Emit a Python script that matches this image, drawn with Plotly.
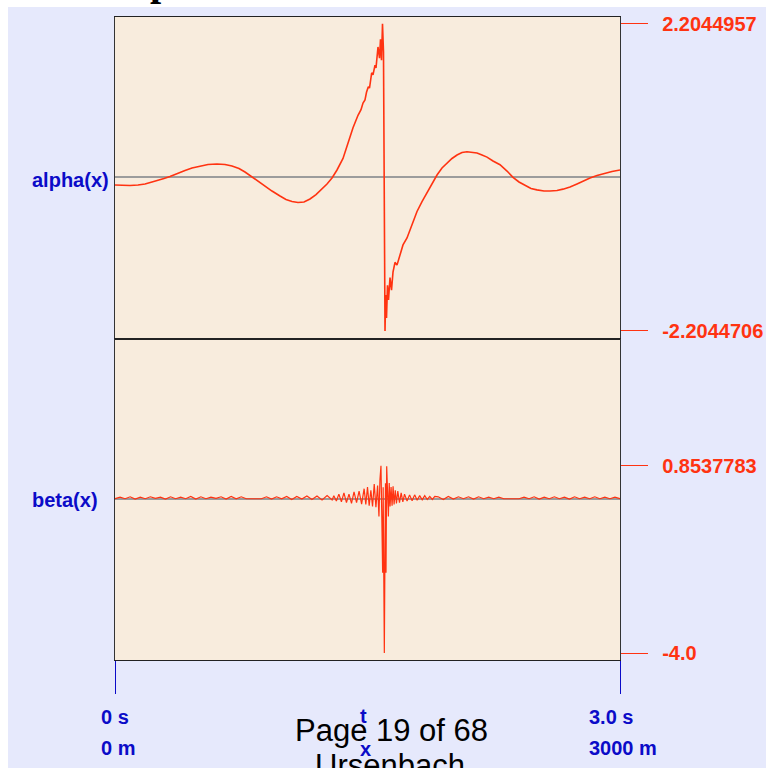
import numpy as np
import plotly.graph_objects as go
from plotly.subplots import make_subplots

# ---- alpha(x): time samples (s) and values ----
alpha_t = [0.0, 0.0416, 0.0891, 0.1366, 0.1782, 0.2198, 0.2554, 0.2911, 0.3267,
           0.3683, 0.4158, 0.4574, 0.5050, 0.5525, 0.6059, 0.6535, 0.6950, 0.7366,
           0.7723, 0.8139, 0.8495, 0.8911, 0.9327, 0.9802, 1.0158, 1.0515, 1.0871,
           1.1228, 1.1584, 1.1941, 1.2297, 1.2594, 1.2891, 1.3188, 1.3545, 1.3842,
           1.4139, 1.4436, 1.4614, 1.4733, 1.4851, 1.4941, 1.5048, 1.5119, 1.5249,
           1.5327, 1.5446, 1.5505, 1.5564, 1.5624, 1.5713, 1.5772, 1.5832, 1.5891,
           1.5950, 1.5992, 1.6040, 1.6081, 1.6129, 1.6188, 1.6248, 1.6337, 1.6426,
           1.6515, 1.6634, 1.6752, 1.6931, 1.7109, 1.7347, 1.7644, 1.7941, 1.8238,
           1.8535, 1.8832, 1.9129, 1.9426, 1.9723, 2.0020, 2.0317, 2.0614, 2.0911,
           2.1208, 2.1505, 2.1802, 2.2099, 2.2455, 2.2871, 2.3287, 2.3644, 2.4000,
           2.4356, 2.4713, 2.5069, 2.5485, 2.5842, 2.6257, 2.6614, 2.7030, 2.7446,
           2.7802, 2.8218, 2.8634, 2.9109, 2.9525, 3.0]
alpha_v = [-0.11, -0.118, -0.118, -0.11, -0.096, -0.067, -0.046, -0.017, 0.011,
           0.055, 0.098, 0.133, 0.162, 0.184, 0.19, 0.184, 0.162, 0.126,
           0.076, 0.004, -0.053, -0.125, -0.197, -0.268, -0.318, -0.347, -0.362,
           -0.354, -0.311, -0.247, -0.168, -0.096, -0.01, 0.105, 0.27, 0.49,
           0.71, 0.89, 0.97, 1.065, 1.11, 1.22, 1.30, 1.28, 1.50,
           1.47, 1.61, 1.57, 1.71, 1.87, 1.71, 1.98, 1.68, 2.2044957,
           1.80, -1.76, -2.2044706, -1.69, -2.02, -1.55, -1.76, -1.44, -1.62,
           -1.36, -1.22, -1.26, -1.11, -0.97, -0.87, -0.67, -0.49, -0.35,
           -0.225, -0.08, 0.033, 0.133, 0.205, 0.27, 0.32, 0.356, 0.367,
           0.363, 0.35, 0.32, 0.29, 0.234, 0.18, 0.09, 0.0, -0.067,
           -0.118, -0.16, -0.18, -0.197, -0.197, -0.19, -0.17, -0.14, -0.096,
           -0.053, -0.01, 0.026, 0.06, 0.083, 0.105]

# ---- beta(x): quiet lead-in, burst, quiet tail ----
BETA_DT = 0.03
beta_lead = [0.00, 0.04, 0.00, 0.05, -0.01, 0.04, 0.00, 0.05, 0.01, 0.04,
             -0.01, 0.05, 0.00, 0.04, 0.00, 0.06, -0.01, 0.05, 0.00, 0.04,
             0.01, 0.05, -0.01, 0.06, 0.00, 0.05, 0.00, 0.00, 0.00, 0.00,
             0.05, -0.01, 0.05, 0.00, 0.06, -0.02, 0.06, -0.01, 0.07, -0.02,
             0.07, -0.03, 0.08, -0.03]
beta_burst_t = [1.300, 1.315, 1.330, 1.345, 1.360, 1.375, 1.390, 1.405, 1.420,
                1.435, 1.450, 1.465, 1.480, 1.490, 1.500, 1.510, 1.520, 1.530,
                1.540, 1.550, 1.560, 1.568, 1.574, 1.580, 1.585, 1.590, 1.593,
                1.596, 1.600, 1.604, 1.607, 1.610, 1.614, 1.619, 1.624, 1.629,
                1.634, 1.640, 1.646, 1.652, 1.658, 1.665, 1.672, 1.680, 1.690,
                1.700, 1.710, 1.720, 1.735, 1.750, 1.765, 1.780, 1.795, 1.810,
                1.825, 1.840, 1.855, 1.870, 1.885, 1.900]
beta_burst_v = [0.08, -0.06, 0.12, -0.08, 0.15, -0.10, 0.12, -0.12, 0.18,
                -0.10, 0.20, -0.14, 0.26, -0.15, 0.30, -0.18, 0.22, -0.20,
                0.38, -0.22, 0.34, -0.46, 0.50, 0.8537783, -0.50, -1.92, 0.30,
                -1.00, -4.0, -1.20, 0.40, -1.92, 0.84, 0.20, -0.46, 0.41,
                -0.20, 0.30, -0.18, 0.32, -0.15, 0.22, -0.12, 0.20, -0.10,
                0.15, -0.08, 0.12, -0.06, 0.10, -0.05, 0.10, -0.04, 0.08,
                -0.03, 0.08, -0.02, 0.06, -0.02, 0.06]
BETA_TAIL_START = 1.92
beta_tail = [0.05, -0.02, 0.06, -0.01, 0.05, 0.00, 0.05, -0.01, 0.05, 0.00,
             0.04, 0.00, 0.04, 0.00, 0.00, 0.00, 0.00, 0.04, 0.00, 0.05,
             -0.01, 0.04, 0.00, 0.05, 0.00, 0.04, -0.01, 0.05, 0.00, 0.04,
             0.00, 0.05, 0.00, 0.04, 0.00, 0.04, 0.00]

# ---- axis labels ----
alpha_ticks = [2.2044957, -2.2044706]
alpha_ticktext = ["2.2044957", "-2.2044706"]
beta_ticks = [0.8537783, -4.0]
beta_ticktext = ["0.8537783", "-4.0"]
row_labels = ["alpha(x)", "beta(x)"]
x_start_labels = ["0 s", "0 m"]
x_end_labels = ["3.0 s", "3000 m"]
x_axis_names = ["t", "x"]

beta_t = (list(np.round(np.arange(len(beta_lead)) * BETA_DT, 4))
          + beta_burst_t
          + list(np.round(BETA_TAIL_START + np.arange(len(beta_tail)) * BETA_DT, 4)))
beta_v = beta_lead + beta_burst_v + beta_tail

RED = "#ff3311"
BLUE = "#0b0bc8"
LAVENDER = "#e6e9fc"
BEIGE = "#f8ecdd"
FONT = "Liberation Sans, Arial, sans-serif"

W, H = 766, 768
ML, MR, MT, MB = 115, 146, 17, 108
PW, PH = W - ML - MR, H - MT - MB


def px(x):
    return (x - ML) / PW


def py(y):
    return (H - MB - y) / PH


split = py(339)

fig = make_subplots(rows=2, cols=1, vertical_spacing=0)

fig.add_trace(go.Scatter(x=alpha_t, y=alpha_v, mode="lines",
                         line=dict(color=RED, width=1.6), hoverinfo="skip"),
              row=1, col=1)
fig.add_trace(go.Scatter(x=beta_t, y=beta_v, mode="lines",
                         line=dict(color=RED, width=1.2), hoverinfo="skip"),
              row=2, col=1)

common_x = dict(range=[0, 3], showgrid=False, zeroline=False, showline=True,
                mirror=True, linecolor="#222222", linewidth=1.4, automargin=False)
fig.update_layout(
    xaxis=dict(common_x, domain=[0, 1], showticklabels=False, ticks=""),
    xaxis2=dict(common_x, domain=[0, 1], showticklabels=False, ticks="outside",
                tickvals=[0, 3], ticklen=33, tickwidth=1.2, tickcolor=BLUE),
)

common_y = dict(showgrid=False, zeroline=True, zerolinecolor="#9c9c9c",
                zerolinewidth=1.6, showline=True, mirror=True,
                linecolor="#333333", linewidth=1.3, side="right",
                ticks="outside", ticklen=27, tickwidth=1.2, tickcolor=RED,
                ticklabelstandoff=10, automargin=False,
                tickfont=dict(family=FONT, size=20, color=RED, weight="bold"))
fig.update_layout(
    yaxis=dict(common_y, domain=[split, 1], range=[-2.32, 2.30],
               tickvals=alpha_ticks, ticktext=alpha_ticktext),
    yaxis2=dict(common_y, domain=[0, split], range=[-4.18, 4.14],
                tickvals=beta_ticks, ticktext=beta_ticktext),
)

annotations = []
lab_font = dict(family=FONT, size=20, color=BLUE, weight="bold")
for label, yc in zip(row_labels, [180, 500]):
    annotations.append(dict(text=label, xref="paper", yref="paper", x=px(30), y=py(yc),
                            xanchor="left", yanchor="middle", showarrow=False, font=lab_font))
for label, yc in zip(x_start_labels, [717, 748]):
    annotations.append(dict(text=label, xref="paper", yref="paper", x=px(99), y=py(yc),
                            xanchor="left", yanchor="middle", showarrow=False, font=lab_font))
for label, yc in zip(x_end_labels, [717, 748]):
    annotations.append(dict(text=label, xref="paper", yref="paper", x=px(587), y=py(yc),
                            xanchor="left", yanchor="middle", showarrow=False, font=lab_font))
for label, xc, yc in zip(x_axis_names, [363, 365], [716, 749]):
    annotations.append(dict(text=label, xref="paper", yref="paper", x=px(xc), y=py(yc),
                            xanchor="center", yanchor="middle", showarrow=False, font=lab_font))

page_font = dict(family=FONT, size=31, color="#000000")
annotations.append(dict(text="Page 19 of 68", xref="paper", yref="paper", x=px(391), y=py(730),
                        xanchor="center", yanchor="middle", showarrow=False, font=page_font))
annotations.append(dict(text="Ursenbach", xref="paper", yref="paper", x=px(390), y=py(765),
                        xanchor="center", yanchor="middle", showarrow=False, font=page_font))
# heading above the panel, mostly off the top of the page
annotations.append(dict(text="p", xref="paper", yref="paper", x=px(148), y=py(6),
                        xanchor="left", yanchor="bottom", showarrow=False,
                        font=dict(family="Liberation Serif, serif", size=40,
                                  color="#000000", weight="bold")))

shapes = [
    dict(type="rect", xref="paper", yref="paper", x0=px(-10), x1=px(W + 10),
         y0=py(7), y1=py(-10), fillcolor="#ffffff", line=dict(width=0), layer="below"),
    dict(type="rect", xref="paper", yref="paper", x0=px(-10), x1=px(8),
         y0=py(H + 10), y1=py(-10), fillcolor="#ffffff", line=dict(width=0), layer="below"),
]

fig.update_layout(
    width=W, height=H,
    margin=dict(l=ML, r=MR, t=MT, b=MB, autoexpand=False),
    paper_bgcolor=LAVENDER,
    plot_bgcolor=BEIGE,
    showlegend=False,
    annotations=annotations,
    shapes=shapes,
)

fig.write_html("out.html")
